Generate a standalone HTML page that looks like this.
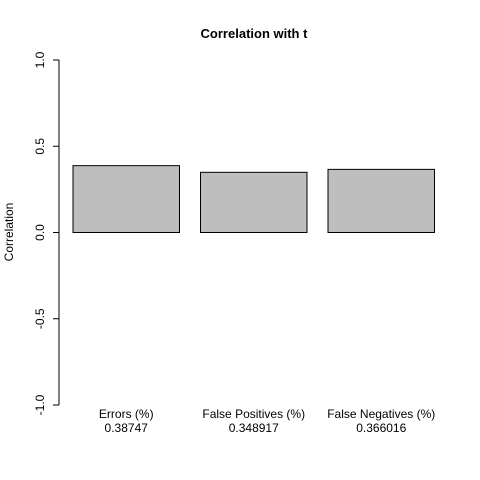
<!DOCTYPE html>
<html><head><meta charset="utf-8"><style>body{margin:0;background:#fff}svg{display:block;font-family:"Liberation Sans",Arial,sans-serif}</style></head>
<body>
<svg id="chart" width="480" height="480" viewBox="0 0 480 480">
<rect width="480" height="480" fill="#fff"/>
<text x="254" y="38" text-anchor="middle" font-size="13" font-weight="bold">Correlation with t</text>
<text transform="translate(13,232) rotate(-90)" text-anchor="middle" font-size="12">Correlation</text>
<g id="axis"></g><g id="bars"></g><g id="labels"></g>
</svg>
<script>
const categories = ["Errors (%)", "False Positives (%)", "False Negatives (%)"];
const values = [0.38747, 0.348917, 0.366016];
const valueLabels = ["0.38747", "0.348917", "0.366016"];
const yTicks = [-1.0, -0.5, 0.0, 0.5, 1.0];
const yTickLabels = ["-1.0", "-0.5", "0.0", "0.5", "1.0"];
const NS = "http://www.w3.org/2000/svg";
function y(v){ return 232.5 - v*172.5; }
function xBar(i){ return 73 + i*127.5; }
const bw = 106.5;
function mk(tag, attrs, parent, text){ const e=document.createElementNS(NS,tag); for(const k in attrs) e.setAttribute(k,attrs[k]); if(text!==undefined) e.textContent=text; document.getElementById(parent).appendChild(e); return e; }
const axis = mk("line",{x1:59,x2:59,y1:y(1),y2:y(-1),stroke:"#000"},"axis");


yTicks.forEach((t,i)=>{
  const tk = mk("line",{x1:53,x2:59,y1:y(t),y2:y(t),stroke:"#000"},"axis");
  
  
  const tl = mk("text",{transform:`translate(44,${y(t)}) rotate(-90)`,"text-anchor":"middle","font-size":"12"},"axis",yTickLabels[i]);
  
  
});
values.forEach((v,i)=>{
  const top = Math.min(y(v), y(0)), h = Math.abs(y(v)-y(0));
  const r = mk("rect",{x:xBar(i),y:top,width:bw,height:h,fill:"#bebebe",stroke:"#000","stroke-width":1},"bars");
  
  
  const cx = xBar(i)+bw/2;
  const c = mk("text",{x:cx,y:418,"text-anchor":"middle","font-size":"12"},"labels",categories[i]);
  
  
  const vl = mk("text",{x:cx,y:432,"text-anchor":"middle","font-size":"12"},"labels",valueLabels[i]);
  
  
});
</script>
</body></html>
